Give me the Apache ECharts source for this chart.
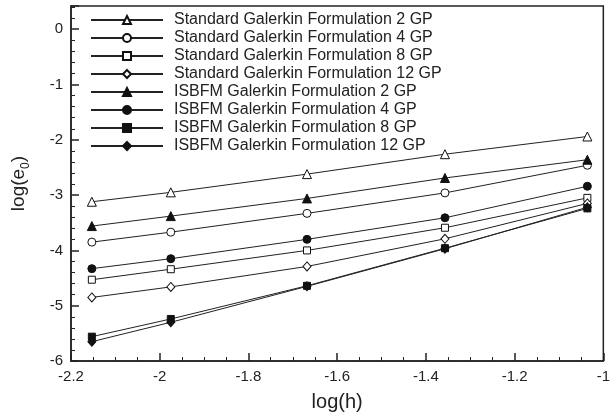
<!DOCTYPE html>
<html>
<head>
<meta charset="utf-8">
<script src="https://cdn.jsdelivr.net/npm/echarts@6/dist/echarts.min.js"></script>
<style>html,body{margin:0;padding:0;background:#fff;}#c{width:613px;height:418px;}</style>
</head>
<body>
<div id="c"></div>
<script>
const logH = [-2.153, -1.975, -1.668, -1.357, -1.036];
const seriesNames = [
  'Standard Galerkin Formulation 2 GP',
  'Standard Galerkin Formulation 4 GP',
  'Standard Galerkin Formulation 8 GP',
  'Standard Galerkin Formulation 12 GP',
  'ISBFM Galerkin Formulation 2 GP',
  'ISBFM Galerkin Formulation 4 GP',
  'ISBFM Galerkin Formulation 8 GP',
  'ISBFM Galerkin Formulation 12 GP'
];
const sg2  = [-3.12, -2.95, -2.62, -2.26, -1.94];
const sg4  = [-3.85, -3.67, -3.33, -2.96, -2.46];
const sg8  = [-4.53, -4.34, -4.00, -3.59, -3.05];
const sg12 = [-4.85, -4.66, -4.29, -3.79, -3.15];
const is2  = [-3.56, -3.38, -3.06, -2.69, -2.36];
const is4  = [-4.33, -4.15, -3.80, -3.41, -2.84];
const is8  = [-5.56, -5.24, -4.64, -3.96, -3.24];
const is12 = [-5.65, -5.30, -4.65, -3.97, -3.22];
const allValues = [sg2, sg4, sg8, sg12, is2, is4, is8, is12];
const symbols = ['triangle', 'circle', 'rect', 'diamond', 'triangle', 'circle', 'rect', 'diamond'];
const sizes = [9, 8, 7, [8, 9], 9, 8, 7, [8, 9]];
const filled = [false, false, false, false, true, true, true, true];

const FONT = '"Liberation Sans", Arial, sans-serif';
const chart = echarts.init(document.getElementById('c'), null, {renderer: 'canvas'});
const series = allValues.map((vals, i) => ({
  name: seriesNames[i],
  type: 'line',
  data: vals.map((v, j) => [logH[j], v]),
  symbol: symbols[i],
  symbolSize: sizes[i],
  showAllSymbol: true,
  lineStyle: {color: '#222', width: 1},
  itemStyle: {color: filled[i] ? '#111' : '#fff', borderColor: '#111', borderWidth: 1},
  z: filled[i] ? 3 : 2,
  animation: false
}));

chart.setOption({
  backgroundColor: '#fff',
  animation: false,
  grid: {left: 71, right: 6, top: 6, bottom: 57, show: true, borderColor: '#222', borderWidth: 1.5},
  legend: {
    orient: 'vertical',
    left: 90,
    top: 12,
    padding: 0,
    itemWidth: 72,
    itemHeight: 10,
    itemGap: 2,
    data: seriesNames,
    textStyle: {fontFamily: FONT, fontSize: 16, color: '#222', lineHeight: 16, padding: [0, 0, 0, 6]}
  },
  xAxis: {
    type: 'value',
    min: -2.2, max: -1.0, interval: 0.2,
    name: 'log(h)',
    nameLocation: 'middle',
    nameGap: 31,
    nameTextStyle: {fontFamily: FONT, fontSize: 20, color: '#222'},
    axisLine: {show: true, onZero: false, lineStyle: {color: '#222', width: 1.5}},
    axisTick: {show: true, inside: true, length: 8, lineStyle: {color: '#222', width: 1.5}},
    minorTick: {show: true, splitNumber: 4, length: 4, lineStyle: {color: '#222', width: 1}},
    axisLabel: {fontFamily: FONT, fontSize: 15, color: '#222', margin: 8},
    splitLine: {show: false}
  },
  yAxis: {
    type: 'value',
    min: -6, max: 0.42, interval: 1,
    name: '{a|log(e}{s|0}{a|)}',
    nameLocation: 'middle',
    nameRotate: 90,
    nameGap: 39,
    nameTextStyle: {
      fontFamily: FONT, color: '#222',
      rich: {
        a: {fontFamily: FONT, fontSize: 19, color: '#222', lineHeight: 26, verticalAlign: 'middle'},
        s: {fontFamily: FONT, fontSize: 12, color: '#222', lineHeight: 26, verticalAlign: 'bottom'}
      }
    },
    axisLine: {show: true, onZero: false, lineStyle: {color: '#222', width: 1.5}},
    axisTick: {show: true, inside: true, length: 8, lineStyle: {color: '#222', width: 1.5}},
    minorTick: {show: true, splitNumber: 5, length: 4, lineStyle: {color: '#222', width: 1}},
    axisLabel: {
      fontFamily: FONT, fontSize: 15, color: '#222', margin: 8, showMaxLabel: false,
      formatter: v => (Math.abs(v - Math.round(v)) < 1e-9 ? String(Math.round(v)) : '')
    },
    splitLine: {show: false}
  },
  series: series
});
</script>
</body>
</html>
